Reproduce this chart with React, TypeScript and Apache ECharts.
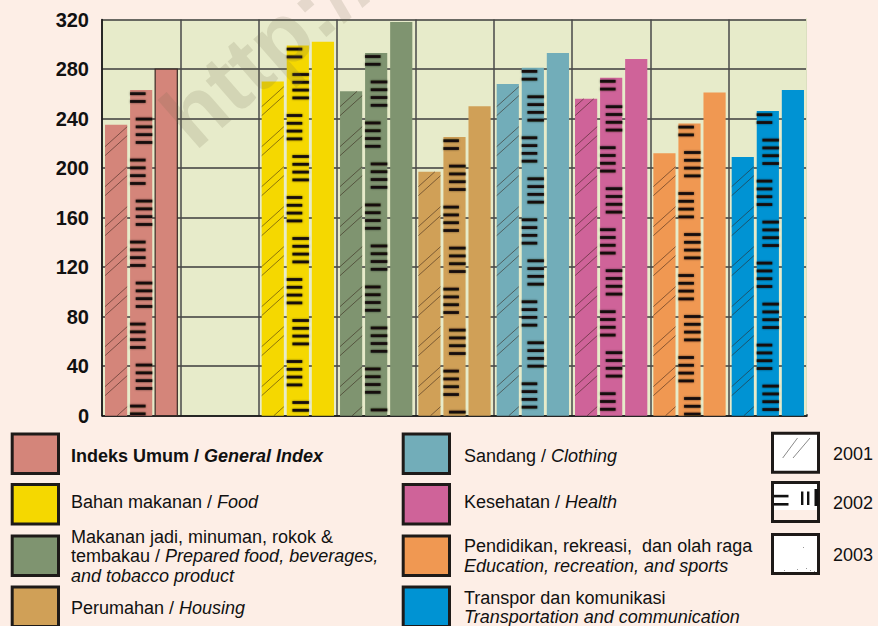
import React, { useEffect, useRef } from 'react';
import * as echarts from 'echarts';

// Price index by expenditure group, three years per group (one empty slot after the general index)
const categories = [
  'Indeks Umum',
  '',
  'Bahan makanan',
  'Makanan jadi, minuman, rokok & tembakau',
  'Perumahan',
  'Sandang',
  'Kesehatan',
  'Pendidikan, rekreasi, dan olah raga',
  'Transpor dan komunikasi',
];
const categoryColors = ['#d4857a', '', '#f5d800', '#7f9470', '#d0a057', '#72adb9', '#cf6399', '#f09852', '#0093d3'];
const years = ['2001', '2002', '2003'];
const index2001 = [235, null, 270, 262, 197, 268, 256, 212, 209];
const index2002 = [263, null, 299, 293, 225, 281, 273, 236, 246];
const index2003 = [280, null, 302, 318, 250, 293, 288, 261, 263];
const yAxisMin = 0;
const yAxisMax = 320;
const yAxisStep = 40;

// Legend texts: local name, separator, English name
const legendLocal = [
  'Indeks Umum',
  'Bahan makanan',
  'Makanan jadi, minuman, rokok &\ntembakau',
  'Perumahan',
  'Sandang',
  'Kesehatan',
  'Pendidikan, rekreasi,  dan olah raga',
  'Transpor dan komunikasi',
];
const legendEnglish = [
  'General Index',
  'Food',
  'Prepared food, beverages,\nand tobacco product',
  'Housing',
  'Clothing',
  'Health',
  'Education, recreation, and sports',
  'Transportation and communication',
];
const legendSeparators = [' / ', ' / ', ' / ', ' / ', ' / ', ' / ', '\n', '\n'];
const legendColors = categoryColors.filter((c) => c !== '');

const yearSeries = [index2001, index2002, index2003];

const PAGE_BG = '#fdeee6';
const PLOT_BG = '#e7ebca';
const FONT = '"Liberation Sans", Arial, Helvetica, sans-serif';

function makeRenderItem(yearIdx: number) {
  return (params: any, api: any) => {
    const cat = api.value(0);
    const val = api.value(1);
    const topPt = api.coord([cat, val]);
    const basePt = api.coord([cat, 0]);
    const band = api.size([1, 0])[0];
    const barW = band * 0.283;
    const pitch = band * 0.32;
    const cx = topPt[0] + (yearIdx - 1) * pitch;
    const x = cx - barW / 2;
    const top = topPt[1];
    const bottom = basePt[1];
    const outlined = cat === 0 && yearIdx === 2;
    const children: any[] = [
      {
        type: 'rect',
        shape: { x, y: top, width: barW, height: bottom - top },
        style: {
          fill: categoryColors[cat],
          stroke: outlined ? '#3a2a26' : null,
          lineWidth: outlined ? 1.2 : 0,
        },
      },
    ];

    if (yearIdx === 0) {
      // thin diagonal hatching, drawn in pairs
      const s = 0.9;
      const period = 40;
      const pairGap = 9;
      for (let base = bottom + s * barW; base - pairGap > top - 1; base -= period) {
        for (const yL of [base, base - pairGap]) {
          let x1 = x;
          let y1 = yL;
          let x2 = x + barW;
          let y2 = yL - s * barW;
          if (y1 > bottom) {
            x1 = x + (y1 - bottom) / s;
            y1 = bottom;
          }
          if (y2 < top) {
            x2 = x + (yL - top) / s;
            y2 = top;
          }
          if (x2 - x1 < 0.5) continue;
          children.push({
            type: 'line',
            shape: { x1, y1, x2, y2 },
            style: { stroke: 'rgba(50,30,20,0.6)', lineWidth: 0.9 },
          });
        }
      }
    } else if (yearIdx === 1) {
      // groups of four short bars, alternating left / right
      for (let k = -1; ; k++) {
        const gs = top + 29 + 41 * k;
        if (gs > bottom) break;
        const left = Math.abs(k) % 2 === 1;
        for (let j = 0; j < 4; j++) {
          const y = gs + 7.8 * j;
          if (y < top + 1.5 || y > bottom - 1.5) continue;
          const w = left ? 15.5 : 16.5;
          children.push({
            type: 'rect',
            shape: { x: left ? x : x + barW - w, y: y - 1.4, width: w, height: 2.8 },
            style: {
              fill: '#16110a',
              shadowBlur: 2,
              shadowColor: 'rgba(0,0,0,0.55)',
            },
          });
        }
      }
    }
    return { type: 'group', children };
  };
}

function buildLegendGraphics(): any[] {
  const els: any[] = [];
  const rowBoxY = [434, 484.5, 536, 587];
  const rowTextY = [455.5, 502, 556, 607.5];
  const colBoxX = [12.2, 403.2];
  const colTextX = [71, 464];
  legendLocal.forEach((local, i) => {
    const col = i < 4 ? 0 : 1;
    const row = i % 4;
    els.push({
      type: 'rect',
      shape: { x: colBoxX[col], y: rowBoxY[row], width: 46.3, height: 39.5 },
      style: { fill: legendColors[i], stroke: '#1e1a18', lineWidth: 3 },
    });
    const isBold = i === 0;
    const text = isBold
      ? `{b|${local}${legendSeparators[i]}}{bi|${legendEnglish[i]}}`
      : `${local}${legendSeparators[i]}{i|${legendEnglish[i]}}`;
    els.push({
      type: 'text',
      style: {
        text,
        x: colTextX[col],
        y: rowTextY[row],
        fill: '#111',
        fontFamily: FONT,
        fontSize: 18,
        lineHeight: 19.5,
        verticalAlign: 'middle',
        textVerticalAlign: 'middle',
        rich: {
          i: { fontStyle: 'italic', fontFamily: FONT, fontSize: 18, lineHeight: 19.5, fill: '#111' },
          b: { fontWeight: 'bold', fontFamily: FONT, fontSize: 18, lineHeight: 19.5, fill: '#111' },
          bi: { fontWeight: 'bold', fontStyle: 'italic', fontFamily: FONT, fontSize: 18, lineHeight: 19.5, fill: '#111' },
        },
      },
    });
  });

  // Year pattern keys
  const yBoxY = [433.2, 482.6, 534.6];
  const yTextY = [453.5, 503, 555];
  const bx = 772.5;
  const bw = 46;
  const bh = 39;
  years.forEach((yr, i) => {
    els.push({
      type: 'rect',
      shape: { x: bx, y: yBoxY[i], width: bw, height: bh },
      style: { fill: i === 1 ? PAGE_BG : '#ffffff', stroke: '#1e1a18', lineWidth: 3 },
    });
    els.push({
      type: 'text',
      style: {
        text: yr,
        x: 833,
        y: yTextY[i],
        fill: '#111',
        fontFamily: FONT,
        fontSize: 18,
        verticalAlign: 'middle',
        textVerticalAlign: 'middle',
      },
    });
  });
  // 2001 key: two diagonal strokes
  els.push(
    { type: 'line', shape: { x1: 782.7, y1: 458, x2: 797.5, y2: 438 }, style: { stroke: '#8a8a8a', lineWidth: 1 } },
    { type: 'line', shape: { x1: 793, y1: 458, x2: 810, y2: 438 }, style: { stroke: '#8a8a8a', lineWidth: 1 } },
  );
  // 2002 key: white band with "=" and "III" marks
  els.push(
    { type: 'rect', shape: { x: bx + 1.5, y: yBoxY[1] + 1.5, width: bw - 3, height: 26 }, style: { fill: '#ffffff' } },
    { type: 'rect', shape: { x: 774, y: 494.8, width: 14.5, height: 2.6 }, style: { fill: '#111' } },
    { type: 'rect', shape: { x: 774, y: 503, width: 14.5, height: 2.6 }, style: { fill: '#111' } },
    { type: 'rect', shape: { x: 801, y: 491.5, width: 2.4, height: 13.5 }, style: { fill: '#111' } },
    { type: 'rect', shape: { x: 807, y: 491.5, width: 2.4, height: 13.5 }, style: { fill: '#111' } },
    { type: 'rect', shape: { x: 814.5, y: 489, width: 4, height: 17 }, style: { fill: '#111' } },
  );
  // 2003 key: a few faint specks
  const specks = [[803, 547], [784, 570], [797, 569], [806, 568], [810, 570], [814, 571]];
  specks.forEach(([sx, sy]) => {
    els.push({ type: 'rect', shape: { x: sx, y: sy, width: 1, height: 1 }, style: { fill: '#9a9a9a' } });
  });
  // the plot has no frame on its right-hand side
  els.push(
    { type: 'rect', shape: { x: 806.1, y: 18, width: 1, height: 396 }, style: { fill: PLOT_BG }, z: 50 },
    { type: 'rect', shape: { x: 807, y: 18, width: 1.2, height: 396 }, style: { fill: PAGE_BG }, z: 50 },
  );
  // faint site watermark across the plot
  els.push({
    type: 'text',
    x: 146,
    y: 96,
    rotation: 0.72,
    z: 100,
    silent: true,
    style: {
      text: 'http://www.bps.go.id',
      fill: 'rgba(110,105,80,0.17)',
      fontFamily: FONT,
      fontWeight: 'bold',
      fontSize: 88,
      verticalAlign: 'alphabetic',
      textVerticalAlign: 'alphabetic',
    },
  });
  return els;
}

export default function App() {
  const ref = useRef<HTMLDivElement>(null);

  useEffect(() => {
    document.body.style.margin = '0';
    if (!ref.current) return;
    const chart = echarts.init(ref.current, undefined, { renderer: 'svg' });

    const series = yearSeries.map((vals, yi) => ({
      name: years[yi],
      type: 'custom',
      renderItem: makeRenderItem(yi),
      encode: { x: 0, y: 1 },
      data: vals
        .map((v, i) => (v === null ? null : [i, v]))
        .filter((d) => d !== null),
      z: 5,
    }));

    chart.setOption({
      animation: false,
      backgroundColor: PAGE_BG,
      grid: {
        left: 102,
        right: 71,
        top: 19.5,
        bottom: 210.3,
        show: true,
        backgroundColor: PLOT_BG,
        borderWidth: 0,
      },
      xAxis: {
        type: 'category',
        data: categories,
        boundaryGap: true,
        axisLabel: { show: false, interval: 0 },
        axisTick: { show: false, interval: 0 },
        axisLine: { show: true, lineStyle: { color: '#111', width: 1.5 } },
        splitLine: { show: true, interval: 0, lineStyle: { color: '#484848', width: 1.5 } },
      },
      yAxis: {
        type: 'value',
        min: yAxisMin,
        max: yAxisMax,
        interval: yAxisStep,
        axisLine: { show: true, lineStyle: { color: '#111', width: 1.5 } },
        axisTick: { show: false },
        axisLabel: {
          color: '#111',
          fontFamily: FONT,
          fontWeight: 'bold',
          fontSize: 20,
          margin: 13,
        },
        splitLine: { show: true, lineStyle: { color: '#3c3c3c', width: 1.5 } },
      },
      series,
      graphic: buildLegendGraphics(),
    });

    return () => chart.dispose();
  }, []);

  return <div ref={ref} style={{ width: 878, height: 626 }} />;
}
